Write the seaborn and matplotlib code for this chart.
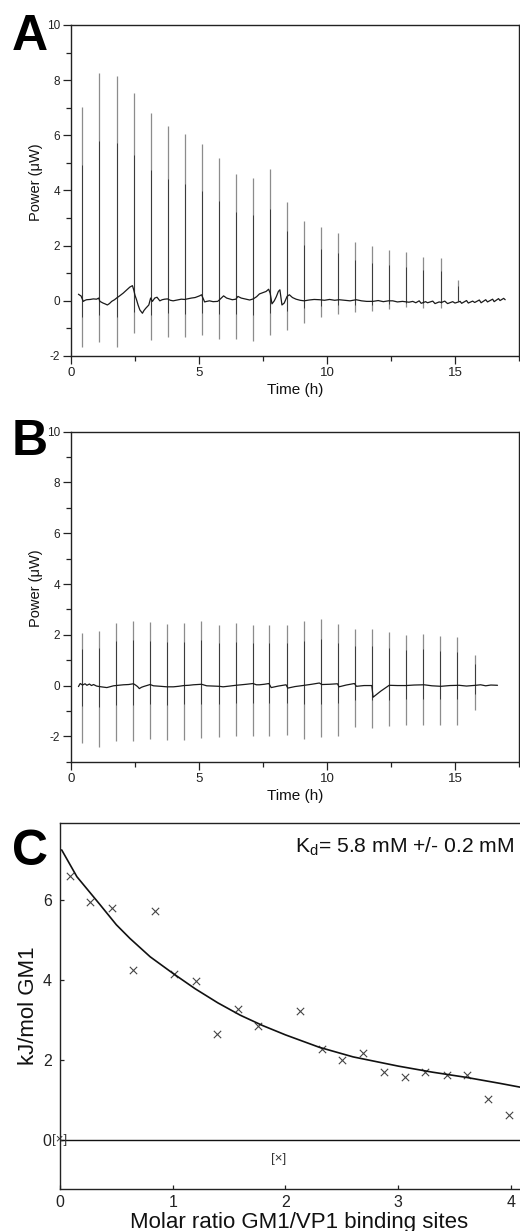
import numpy as np
import pandas as pd
import matplotlib
matplotlib.use("Agg")
import matplotlib.pyplot as plt
from matplotlib.ticker import MultipleLocator
import seaborn as sns

# ---- panel A: GM1 into VP1, raw power trace ----
a_inj_t = [0.44, 1.09, 1.78, 2.45, 3.12, 3.77, 4.44, 5.10, 5.78, 6.44, 7.12, 7.78,
           8.44, 9.10, 9.77, 10.44, 11.10, 11.76, 12.44, 13.10, 13.76, 14.44, 15.11]
a_peak = [7.03, 8.27, 8.16, 7.54, 6.80, 6.33, 6.04, 5.69, 5.19, 4.59, 4.47, 4.78,
          3.60, 2.90, 2.66, 2.46, 2.14, 1.98, 1.84, 1.77, 1.60, 1.54, 0.76]
a_dip = [-1.69, -1.50, -1.66, -1.15, -1.43, -1.30, -1.32, -1.23, -1.38, -1.37, -1.44, -1.23,
         -1.05, -0.79, -0.57, -0.47, -0.40, -0.38, -0.30, -0.23, -0.25, -0.27, -0.02]
a_base_t = [0.29, 0.35, 0.39, 0.48, 0.55, 0.61, 0.75, 0.87, 1.00, 1.08, 1.13, 1.25, 1.33, 1.42,
            1.50, 1.59, 1.70, 1.78, 1.90, 2.04, 2.18, 2.30, 2.40, 2.45, 2.50, 2.56, 2.62, 2.69,
            2.75, 2.79, 2.85, 2.92, 3.04, 3.11, 3.18, 3.27, 3.36, 3.47, 3.56, 3.66, 3.77, 3.88,
            3.99, 4.15, 4.31, 4.44, 4.55, 4.70, 4.85, 5.02, 5.10, 5.22, 5.30, 5.41, 5.55, 5.73,
            5.78, 5.96, 6.08, 6.19, 6.30, 6.44, 6.52, 6.65, 6.84, 6.98, 7.12, 7.25, 7.36, 7.50,
            7.62, 7.72, 7.78, 7.85, 7.94, 8.02, 8.10, 8.16, 8.24, 8.33, 8.44, 8.53, 8.65, 8.79,
            8.95, 9.11, 9.30, 9.50, 9.71, 9.90, 10.10, 10.30, 10.48, 10.70, 10.90, 11.14, 11.35,
            11.55, 11.79, 12.00, 12.20, 12.40, 12.57, 12.75, 12.95, 13.20, 13.35, 13.47, 13.60,
            13.68, 13.85, 13.93, 14.13, 14.22, 14.38, 14.47, 14.60, 14.71, 14.91, 15.00, 15.20,
            15.26, 15.45, 15.52, 15.69, 15.77, 15.95, 16.02, 16.20, 16.27, 16.47, 16.53, 16.70,
            16.76, 16.90, 16.96]
a_base_v = [0.24, 0.20, 0.18, -0.02, 0.02, 0.04, 0.05, 0.07, 0.06, 0.10, -0.02, -0.08, -0.11, -0.15,
            -0.10, -0.02, 0.04, 0.10, 0.18, 0.28, 0.40, 0.50, 0.55, 0.40, 0.20, 0.04, -0.15, -0.33,
            -0.40, -0.45, -0.35, -0.27, -0.15, 0.10, -0.02, 0.10, 0.13, 0.00, 0.04, 0.06, 0.07, 0.02,
            0.00, 0.03, 0.06, 0.05, 0.07, 0.10, 0.12, 0.18, 0.22, -0.04, -0.02, 0.00, -0.03, -0.02,
            0.02, 0.18, 0.10, 0.07, 0.04, 0.06, 0.16, 0.10, 0.06, 0.03, 0.07, 0.15, 0.25, 0.30,
            0.34, 0.42, 0.28, -0.11, 0.00, 0.15, 0.34, 0.40, -0.15, -0.08, 0.16, 0.22, 0.12, 0.06,
            0.02, 0.00, 0.03, 0.05, 0.04, 0.02, 0.05, 0.02, 0.04, 0.02, 0.00, 0.04, 0.00,
            -0.02, -0.02, 0.01, -0.03, 0.00, 0.00, -0.04, -0.02, -0.05, -0.02, -0.07, 0.00,
            -0.09, -0.03, -0.07, -0.01, -0.10, -0.04, -0.06, -0.01, -0.10, -0.03, -0.08, -0.02,
            -0.09, 0.01, -0.08, -0.01, -0.06, 0.03, -0.07, 0.04, -0.04, 0.06, -0.03, 0.08,
            0.01, 0.09, 0.04]

# ---- panel B: control titration ----
b_inj_t = [0.43, 1.09, 1.76, 2.43, 3.10, 3.75, 4.43, 5.09, 5.77, 6.43, 7.10, 7.75,
           8.43, 9.09, 9.75, 10.43, 11.10, 11.76, 12.43, 13.09, 13.75, 14.43, 15.09, 15.77]
b_peak = [2.08, 2.13, 2.48, 2.54, 2.52, 2.44, 2.46, 2.54, 2.37, 2.46, 2.37, 2.39,
          2.39, 2.53, 2.64, 2.41, 2.24, 2.21, 2.12, 2.01, 2.05, 1.95, 1.91, 1.21]
b_dip = [-2.25, -2.44, -2.20, -2.17, -2.09, -2.14, -2.13, -2.07, -2.04, -2.00, -2.00, -2.00,
         -1.93, -2.10, -2.04, -2.00, -1.63, -1.66, -1.60, -1.57, -1.54, -1.55, -1.55, -0.97]
b_base_t = [0.29, 0.36, 0.45, 0.55, 0.62, 0.72, 0.80, 0.88, 1.00, 1.11, 1.25, 1.40, 1.55, 1.66,
            1.85, 2.05, 2.25, 2.44, 2.52, 2.60, 2.67, 2.75, 2.83, 3.09, 3.22, 3.50, 3.74, 4.00,
            4.20, 4.41, 4.60, 4.78, 5.10, 5.30, 5.55, 5.79, 5.94, 6.20, 6.44, 6.65, 6.85, 7.11,
            7.24, 7.36, 7.55, 7.73, 7.82, 8.10, 8.40, 8.47, 8.75, 9.05, 9.40, 9.70, 9.80, 10.10,
            10.41, 10.47, 10.75, 11.07, 11.15, 11.45, 11.75, 11.80, 12.10, 12.43, 12.75, 13.08,
            13.40, 13.79, 14.10, 14.45, 14.80, 15.16, 15.45, 15.81, 16.00, 16.20, 16.40, 16.66]
b_base_v = [-0.04, 0.08, 0.02, 0.07, 0.01, 0.06, 0.00, 0.04, -0.02, -0.04, -0.06, -0.08, -0.04, -0.01,
            0.01, 0.03, 0.04, 0.07, 0.02, -0.04, -0.12, -0.07, -0.04, 0.04, -0.01, -0.03, -0.05, -0.05,
            -0.03, 0.00, 0.01, 0.03, 0.05, -0.01, -0.02, -0.03, -0.05, -0.02, 0.01, 0.03, 0.05, 0.08,
            0.03, 0.03, 0.05, 0.08, -0.08, -0.02, 0.03, -0.10, -0.04, 0.00, 0.05, 0.10, 0.04, 0.05,
            0.07, -0.05, 0.02, 0.08, -0.03, 0.00, 0.00, -0.46, -0.22, 0.01, 0.00, 0.00,
            0.02, 0.03, -0.01, -0.03, 0.00, 0.01, -0.02, 0.01, 0.03, -0.01, 0.02, 0.01]

# ---- panel C: integrated heats and fit ----
c_ratio = [0.09, 0.27, 0.46, 0.65, 0.84, 1.01, 1.21, 1.39, 1.58, 1.76, 2.13, 2.32,
           2.50, 2.69, 2.87, 3.06, 3.24, 3.43, 3.61, 3.80, 3.98]
c_heat = [6.61, 5.96, 5.79, 4.24, 5.73, 4.16, 3.97, 2.64, 3.27, 2.85, 3.22, 2.28,
          2.01, 2.17, 1.70, 1.59, 1.71, 1.63, 1.62, 1.03, 0.62]
c_excl_ratio = [0.0, 1.94]
c_excl_heat = [0.0, -0.46]
fit_ratio = [0.015, 0.15, 0.35, 0.50, 0.62, 0.80, 1.00, 1.20, 1.40, 1.60, 1.80, 2.00,
             2.30, 2.60, 3.00, 3.30, 3.60, 3.90, 4.24]
fit_heat = [7.25, 6.58, 5.90, 5.38, 5.04, 4.58, 4.17, 3.78, 3.43, 3.12, 2.86, 2.63,
            2.32, 2.08, 1.85, 1.70, 1.57, 1.42, 1.24]
kd_text = "K$_\\mathrm{d}$= 5.8 mM +/- 0.2 mM"

sns.set_style("ticks")
plt.rcParams["font.family"] = ["Liberation Sans", "DejaVu Sans"]
plt.rcParams["mathtext.fontset"] = "custom"
plt.rcParams["mathtext.rm"] = "Liberation Sans"
plt.rcParams["mathtext.it"] = "Liberation Sans:italic"
plt.rcParams["axes.edgecolor"] = "#222222"
plt.rcParams["axes.linewidth"] = 1.0
plt.rcParams["axes.unicode_minus"] = False

fig = plt.figure(figsize=(5.2, 12.31), dpi=100)
ax_a = fig.add_axes([71 / 520, 1 - 356 / 1231, 448 / 520, 331 / 1231])
ax_b = fig.add_axes([71 / 520, 1 - 761.7 / 1231, 448 / 520, 330 / 1231])
ax_c = fig.add_axes([60 / 520, 1 - 1189 / 1231, 478 / 520, 366.3 / 1231])


def power_panel(ax, inj_t, peak, dip, base_t, base_v, ylo):
    ax.vlines(inj_t, dip, peak, color="#8c8c8c", lw=0.9)
    ax.vlines(inj_t, np.array(dip) * 0.35, np.array(peak) * 0.7, color="#3a3a3a", lw=0.7)
    sns.lineplot(x=base_t, y=base_v, ax=ax, color="#1a1a1a", lw=0.9,
                 sort=False, estimator=None)
    ax.set_xlim(0, 17.5)
    ax.set_ylim(ylo, 10)
    ax.xaxis.set_major_locator(MultipleLocator(5))
    ax.xaxis.set_minor_locator(MultipleLocator(2.5))
    ax.yaxis.set_major_locator(MultipleLocator(2))
    ax.yaxis.set_minor_locator(MultipleLocator(1))
    ax.tick_params(axis="both", which="major", direction="out", length=6, width=0.9,
                   color="#222222", labelcolor="#222222", pad=2)
    ax.tick_params(axis="both", which="minor", direction="out", length=3.5, width=0.9,
                   color="#222222")
    ax.tick_params(axis="y", labelsize=8.5)
    ax.tick_params(axis="x", labelsize=9.5)
    ax.set_xlabel("Time (h)", fontsize=11, labelpad=3, color="#111111")
    ax.set_ylabel("Power (\u03bcW)", fontsize=10.5, color="#111111")
    ax.yaxis.set_label_coords(-0.0625, 0.526)
    for s in ax.spines.values():
        s.set_visible(True)


power_panel(ax_a, a_inj_t, a_peak, a_dip, a_base_t, a_base_v, -2)
power_panel(ax_b, b_inj_t, b_peak, b_dip, b_base_t, b_base_v, -3)

# panel C
ax_c.axhline(0, color="#111111", lw=1.0)
sns.lineplot(x=fit_ratio, y=fit_heat, ax=ax_c, color="#111111", lw=1.2,
             sort=False, estimator=None)
sns.scatterplot(x=c_ratio, y=c_heat, ax=ax_c, marker="x", s=28, color="#444444",
                linewidth=0.8)
for xr, yh in zip(c_excl_ratio, c_excl_heat):
    ax_c.text(xr, yh, "[\u00d7]", ha="center", va="center", fontsize=9.5, color="#333333")
ax_c.text(2.085, 7.17, kd_text, ha="left", va="baseline", fontsize=15.2, color="#111111")
ax_c.set_xlim(0, 4.24)
ax_c.set_ylim(-1.22, 7.93)
ax_c.set_xticks([0, 1, 2, 3, 4])
ax_c.set_yticks([0, 2, 4, 6])
ax_c.tick_params(axis="both", direction="in", length=3, width=0.9, color="#222222",
                 labelsize=11.5, labelcolor="#222222", pad=4)
ax_c.tick_params(axis="y", pad=6)
ax_c.set_xlabel("Molar ratio GM1/VP1 binding sites", fontsize=16, labelpad=2, color="#111111")
ax_c.set_ylabel("kJ/mol GM1", fontsize=16, labelpad=3, color="#111111")
for s in ax_c.spines.values():
    s.set_visible(True)

for letter, ytop in [("A", 50), ("B", 455), ("C", 865)]:
    fig.text(12 / 520, 1 - ytop / 1231, letter, fontsize=36, fontweight="bold",
             ha="left", va="baseline", color="black")

fig.savefig("out.png", dpi=100)
